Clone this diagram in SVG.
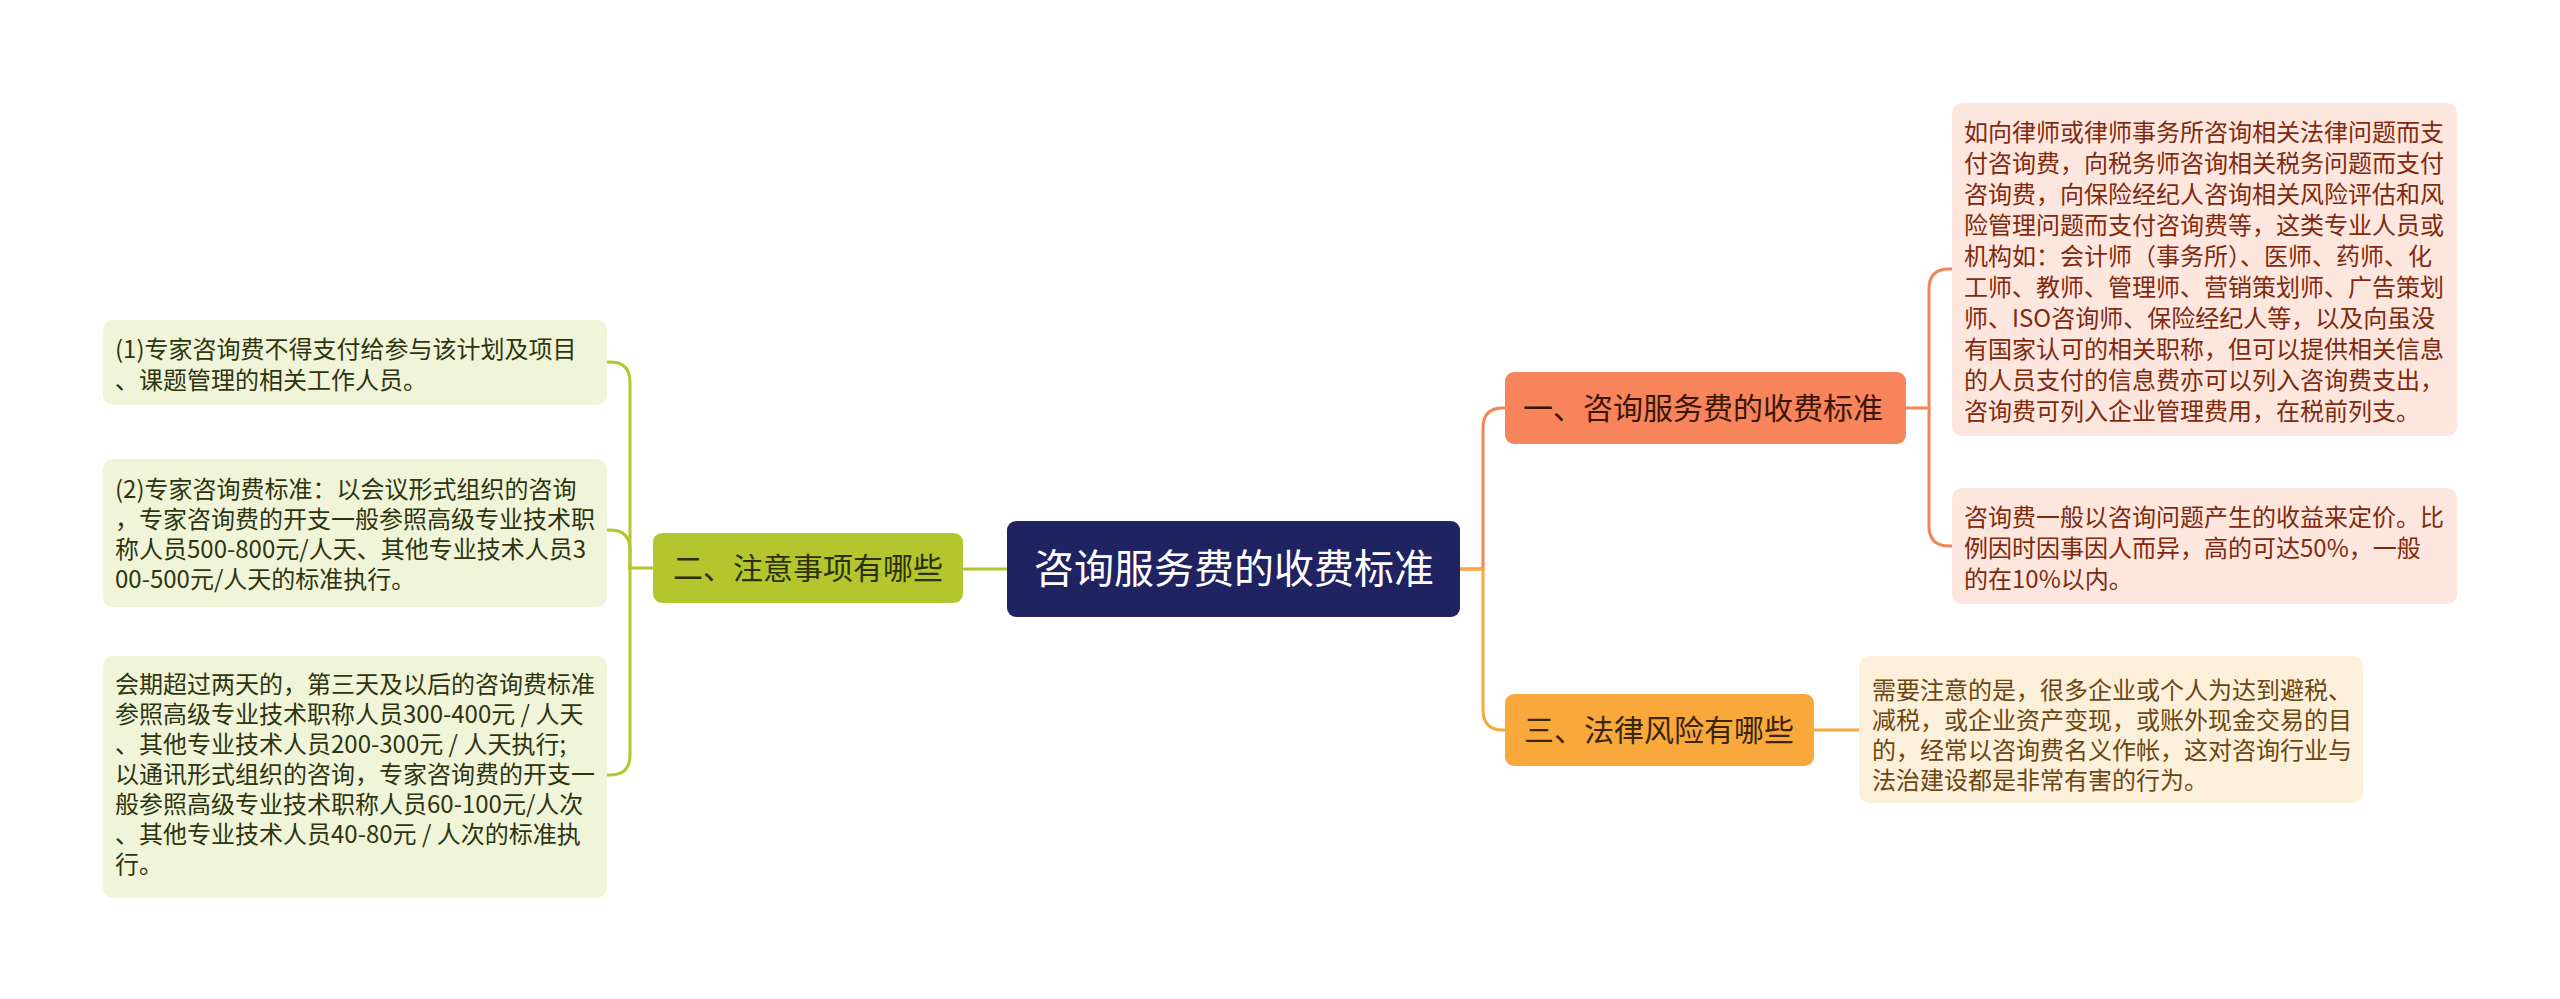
<svg xmlns="http://www.w3.org/2000/svg" width="2560" height="999" viewBox="0 0 2560 999">
<style>
text{font-family:"Noto Sans CJK SC","Noto Sans",sans-serif;}
.c{fill:none;stroke-width:3;stroke-linecap:round;stroke-linejoin:round;}
.g{stroke:#b3c62f;}
.o{stroke:#f3845a;}
.y{stroke:#f8a93a;}
.leafR{fill:#fde6de;}
.leafY{fill:#fdf0da;}
.leafG{fill:#f0f4d8;}
.tR{font-size:24px;fill:#7f2a0e;}
.tY{font-size:24px;fill:#6b4712;}
.tG{font-size:24px;fill:#2f3410;}
.br{font-size:30px;text-anchor:middle;}
</style>
<rect width="2560" height="999" fill="#ffffff"/>
<g id="connectors">
<path class="c g" d="M1007,569 H963"/>
<path class="c g" d="M653,568 H630"/>
<path class="c g" d="M630,568 V382 Q630,362 610,362 H607"/>
<path class="c g" d="M630,568 V550 Q630,530 610,530 H607"/>
<path class="c g" d="M630,568 V755 Q630,775 610,775 H607"/>
<path class="c o" d="M1460,569 H1483 V428 Q1483,408 1503,408 H1505"/>
<path class="c y" d="M1460,569 H1483 V710 Q1483,730 1503,730 H1505"/>
<path class="c o" d="M1906,408 H1929 V289 Q1929,269 1949,269 H1952"/>
<path class="c o" d="M1929,408 V526 Q1929,546 1949,546 H1952"/>
<path class="c y" d="M1814,730 H1859"/>
</g>
<g id="center">
<rect x="1007" y="521" width="453" height="96" rx="9" fill="#1f2362"/>
<text x="1234" y="583" font-size="40" text-anchor="middle" fill="#ffffff">咨询服务费的收费标准</text>
</g>
<g id="branch1">
<rect x="1505" y="372" width="401" height="72" rx="9" fill="#f7845a"/>
<text class="br" x="1703" y="419" fill="#3a160a">一、咨询服务费的收费标准</text>
</g>
<g id="branch2">
<rect x="653" y="533" width="310" height="70" rx="9" fill="#b4c62d"/>
<text class="br" x="808" y="579" fill="#2b300a">二、注意事项有哪些</text>
</g>
<g id="branch3">
<rect x="1505" y="694" width="309" height="72" rx="9" fill="#f9a93c"/>
<text class="br" x="1659" y="741" fill="#3a2508">三、法律风险有哪些</text>
</g>
<g id="leaf1">
<rect class="leafR" x="1952" y="103" width="505" height="333" rx="10"/>
<text class="tR">
<tspan x="1964" y="141">如向律师或律师事务所咨询相关法律问题而支</tspan>
<tspan x="1964" y="172">付咨询费，向税务师咨询相关税务问题而支付</tspan>
<tspan x="1964" y="203">咨询费，向保险经纪人咨询相关风险评估和风</tspan>
<tspan x="1964" y="234">险管理问题而支付咨询费等，这类专业人员或</tspan>
<tspan x="1964" y="265">机构如：会计师（事务所）、医师、药师、化</tspan>
<tspan x="1964" y="296">工师、教师、管理师、营销策划师、广告策划</tspan>
<tspan x="1964" y="327">师、ISO咨询师、保险经纪人等，以及向虽没</tspan>
<tspan x="1964" y="358">有国家认可的相关职称，但可以提供相关信息</tspan>
<tspan x="1964" y="389">的人员支付的信息费亦可以列入咨询费支出，</tspan>
<tspan x="1964" y="420">咨询费可列入企业管理费用，在税前列支。</tspan>
</text>
</g>
<g id="leaf2">
<rect class="leafR" x="1952" y="488" width="505" height="116" rx="10"/>
<text class="tR">
<tspan x="1964" y="526">咨询费一般以咨询问题产生的收益来定价。比</tspan>
<tspan x="1964" y="557">例因时因事因人而异，高的可达50%，一般</tspan>
<tspan x="1964" y="588">的在10%以内。</tspan>
</text>
</g>
<g id="leaf3">
<rect class="leafY" x="1859" y="656" width="504" height="147" rx="10"/>
<text class="tY">
<tspan x="1872" y="699">需要注意的是，很多企业或个人为达到避税、</tspan>
<tspan x="1872" y="729">减税，或企业资产变现，或账外现金交易的目</tspan>
<tspan x="1872" y="759">的，经常以咨询费名义作帐，这对咨询行业与</tspan>
<tspan x="1872" y="789">法治建设都是非常有害的行为。</tspan>
</text>
</g>
<g id="leafL1">
<rect class="leafG" x="103" y="320" width="504" height="85" rx="10"/>
<text class="tG">
<tspan x="115" y="358">(1)专家咨询费不得支付给参与该计划及项目</tspan>
<tspan x="115" y="389">、课题管理的相关工作人员。</tspan>
</text>
</g>
<g id="leafL2">
<rect class="leafG" x="103" y="459" width="504" height="148" rx="10"/>
<text class="tG">
<tspan x="115" y="498">(2)专家咨询费标准：以会议形式组织的咨询</tspan>
<tspan x="115" y="528">，专家咨询费的开支一般参照高级专业技术职</tspan>
<tspan x="115" y="558">称人员500-800元/人天、其他专业技术人员3</tspan>
<tspan x="115" y="588">00-500元/人天的标准执行。</tspan>
</text>
</g>
<g id="leafL3">
<rect class="leafG" x="103" y="656" width="504" height="242" rx="10"/>
<text class="tG">
<tspan x="115" y="693">会期超过两天的，第三天及以后的咨询费标准</tspan>
<tspan x="115" y="723">参照高级专业技术职称人员300-400元 / 人天</tspan>
<tspan x="115" y="753">、其他专业技术人员200-300元 / 人天执行;</tspan>
<tspan x="115" y="783">以通讯形式组织的咨询，专家咨询费的开支一</tspan>
<tspan x="115" y="813">般参照高级专业技术职称人员60-100元/人次</tspan>
<tspan x="115" y="843">、其他专业技术人员40-80元 / 人次的标准执</tspan>
<tspan x="115" y="873">行。</tspan>
</text>
</g>
</svg>
